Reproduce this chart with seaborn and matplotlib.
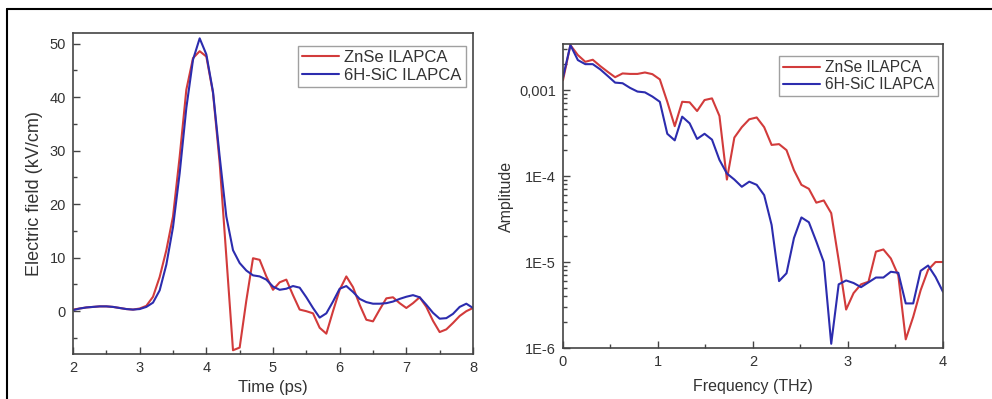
import numpy as np
import pandas as pd
import matplotlib
matplotlib.use("Agg")
import matplotlib.pyplot as plt
import seaborn as sns
from matplotlib.ticker import MultipleLocator, LogLocator, FixedLocator, FuncFormatter, NullFormatter
from matplotlib.lines import Line2D

# ---------------- data ----------------
time_ps = np.round(np.arange(2.0, 8.0001, 0.1), 2)
znse_field = [0.3, 0.5, 0.7, 0.8, 0.9, 0.9, 0.8, 0.6, 0.4, 0.3,
              0.5, 1.0, 2.7, 6.4, 11.4, 17.7, 28.9, 41.4, 47.3, 48.6,
              47.6, 40.8, 27.7, 10.2, -7.3, -6.8, 2.0, 9.9, 9.6, 6.5,
              4.0, 5.4, 5.9, 3.0, 0.3, 0.0, -0.4, -3.1, -4.2, 0.0,
              4.0, 6.5, 4.5, 1.2, -1.6, -1.9, 0.3, 2.4, 2.6, 1.5,
              0.6, 1.5, 2.6, 0.8, -1.8, -3.9, -3.4, -2.2, -0.9, 0.0,
              0.6]
sic_field = [0.2, 0.5, 0.7, 0.8, 0.9, 0.9, 0.8, 0.6, 0.4, 0.3,
             0.4, 0.8, 1.6, 3.9, 8.7, 15.7, 25.8, 38.0, 47.0, 51.0,
             48.0, 41.0, 28.9, 17.7, 11.4, 9.0, 7.6, 6.7, 6.5, 5.9,
             4.6, 4.0, 4.2, 4.7, 4.4, 2.6, 0.6, -1.2, -0.4, 1.8,
             4.2, 4.7, 3.6, 2.3, 1.7, 1.4, 1.4, 1.5, 1.8, 2.3,
             2.7, 3.0, 2.6, 1.2, -0.3, -1.4, -1.3, -0.5, 0.8, 1.4,
             0.6]

freq_thz = np.arange(52) * (4.0 / 51)
znse_amp = [1.3e-3, 3.33e-3, 2.55e-3, 2.13e-3, 2.25e-3, 1.9e-3, 1.63e-3, 1.41e-3, 1.56e-3, 1.54e-3,
            1.54e-3, 1.6e-3, 1.53e-3, 1.33e-3, 7.3e-4, 3.8e-4, 7.3e-4, 7.2e-4, 5.7e-4, 7.65e-4,
            8.0e-4, 5.0e-4, 9.1e-5, 2.8e-4, 3.7e-4, 4.57e-4, 4.8e-4, 3.7e-4, 2.3e-4, 2.35e-4,
            2.0e-4, 1.17e-4, 7.9e-5, 7.1e-5, 4.9e-5, 5.2e-5, 3.7e-5, 1.05e-5, 2.8e-6, 4.35e-6,
            5.5e-6, 5.9e-6, 1.32e-5, 1.4e-5, 1.1e-5, 7.0e-6, 1.26e-6, 2.3e-6, 4.7e-6, 8.1e-6,
            1.0e-5, 1.0e-5]
sic_amp = [1.4e-3, 3.33e-3, 2.23e-3, 2.0e-3, 2.0e-3, 1.74e-3, 1.46e-3, 1.22e-3, 1.2e-3, 1.06e-3,
           9.6e-4, 9.4e-4, 8.4e-4, 7.3e-4, 3.1e-4, 2.6e-4, 4.9e-4, 4.1e-4, 2.7e-4, 3.1e-4,
           2.65e-4, 1.54e-4, 1.07e-4, 9.1e-5, 7.5e-5, 8.6e-5, 7.9e-5, 6.0e-5, 2.7e-5, 6.0e-6,
           7.4e-6, 1.9e-5, 3.3e-5, 2.9e-5, 1.73e-5, 1.0e-5, 1.12e-6, 5.5e-6, 6.1e-6, 5.7e-6,
           5.1e-6, 5.8e-6, 6.6e-6, 6.6e-6, 7.7e-6, 7.5e-6, 3.3e-6, 3.3e-6, 7.9e-6, 9.1e-6,
           6.7e-6, 4.5e-6]

series_names = ["ZnSe ILAPCA", "6H-SiC ILAPCA"]
series_colors = ["#d23b3b", "#2c2cae"]
amp_labels = {1e-3: "0,001", 1e-4: "1E-4", 1e-5: "1E-5", 1e-6: "1E-6"}

# ---------------- style ----------------
sns.set_style("ticks")
plt.rcParams["font.family"] = ["Liberation Sans", "DejaVu Sans"]
TXT = "#333333"
plt.rcParams.update({
    "xtick.direction": "in", "ytick.direction": "in",
    "xtick.color": "#444444", "ytick.color": "#444444",
    "xtick.labelcolor": TXT, "ytick.labelcolor": TXT,
    "axes.edgecolor": "#444444", "axes.linewidth": 1.2,
})

time_df = pd.DataFrame({
    "t": np.concatenate([time_ps, time_ps]),
    "E": np.concatenate([znse_field, sic_field]),
    "s": [series_names[0]] * len(time_ps) + [series_names[1]] * len(time_ps),
})
freq_df = pd.DataFrame({
    "f": np.concatenate([freq_thz, freq_thz]),
    "A": np.concatenate([znse_amp, sic_amp]),
    "s": [series_names[0]] * len(freq_thz) + [series_names[1]] * len(freq_thz),
})
palette = dict(zip(series_names, series_colors))

fig = plt.figure(figsize=(9.92, 3.99), dpi=100)
ax1 = fig.add_axes([0.0736, 0.1128, 0.4032, 0.8045])
ax2 = fig.add_axes([0.5675, 0.1278, 0.3831, 0.7619])

sns.lineplot(data=time_df, x="t", y="E", hue="s", palette=palette, ax=ax1,
             linewidth=1.5, sort=False, estimator=None)
sns.lineplot(data=freq_df, x="f", y="A", hue="s", palette=palette, ax=ax2,
             linewidth=1.5, sort=False, estimator=None)

# left axes
ax1.set_xlim(2, 8)
ax1.set_ylim(-8, 52)
ax1.xaxis.set_major_locator(MultipleLocator(1))
ax1.xaxis.set_minor_locator(MultipleLocator(0.5))
ax1.yaxis.set_major_locator(MultipleLocator(10))
ax1.yaxis.set_minor_locator(MultipleLocator(5))
ax1.set_xlabel("Time (ps)", fontsize=12, color=TXT, labelpad=4)
ax1.set_ylabel("Electric field (kV/cm)", fontsize=13, color=TXT, labelpad=5)

# right axes
ax2.set_yscale("log")
ax2.set_xlim(0, 4)
ax2.set_ylim(1e-6, 3.43e-3)
ax2.xaxis.set_major_locator(MultipleLocator(1))
ax2.xaxis.set_minor_locator(MultipleLocator(0.5))
ax2.yaxis.set_major_locator(FixedLocator(list(amp_labels.keys())))
ax2.yaxis.set_minor_locator(LogLocator(base=10, subs=np.arange(2, 10)))
ax2.yaxis.set_major_formatter(FuncFormatter(lambda v, p: amp_labels.get(float(f"{v:.0e}"), "")))
ax2.yaxis.set_minor_formatter(NullFormatter())
ax2.set_xlabel("Frequency (THz)", fontsize=11.5, color=TXT, labelpad=7)
ax2.set_ylabel("Amplitude", fontsize=11.5, color=TXT, labelpad=4)

for ax in (ax1, ax2):
    ax.tick_params(which="major", length=5, width=1.0, labelsize=10.5, pad=5,
                   top=False, right=False)
    ax.tick_params(which="minor", length=3, width=1.0, top=False, right=False)
    for sp in ax.spines.values():
        sp.set_visible(True)
        sp.set_color("#444444")
        sp.set_linewidth(1.2)
    ax.grid(False)

leg1 = ax1.legend(loc="upper right", bbox_to_anchor=(0.99, 0.97), fontsize=12,
                  frameon=True, fancybox=False, edgecolor="#888888", handlelength=2.2,
                  handletextpad=0.3, borderpad=0.25, labelspacing=0.15, borderaxespad=0.2)
leg2 = ax2.legend(loc="upper right", bbox_to_anchor=(0.995, 0.97), fontsize=11.2,
                  frameon=True, fancybox=False, edgecolor="#888888", handlelength=2.4,
                  handletextpad=0.3, borderpad=0.25, labelspacing=0.15, borderaxespad=0.2)
for leg in (leg1, leg2):
    leg.get_frame().set_linewidth(1.0)
    for t in leg.get_texts():
        t.set_color(TXT)

# outer frame (left and top visible)
fig.add_artist(Line2D([7 / 992, 7 / 992], [0, 1 - 9 / 399], transform=fig.transFigure,
                      color="black", linewidth=1.5))
fig.add_artist(Line2D([7 / 992, 1], [1 - 9 / 399, 1 - 9 / 399], transform=fig.transFigure,
                      color="black", linewidth=1.5))

fig.savefig("out.png", dpi=100)
